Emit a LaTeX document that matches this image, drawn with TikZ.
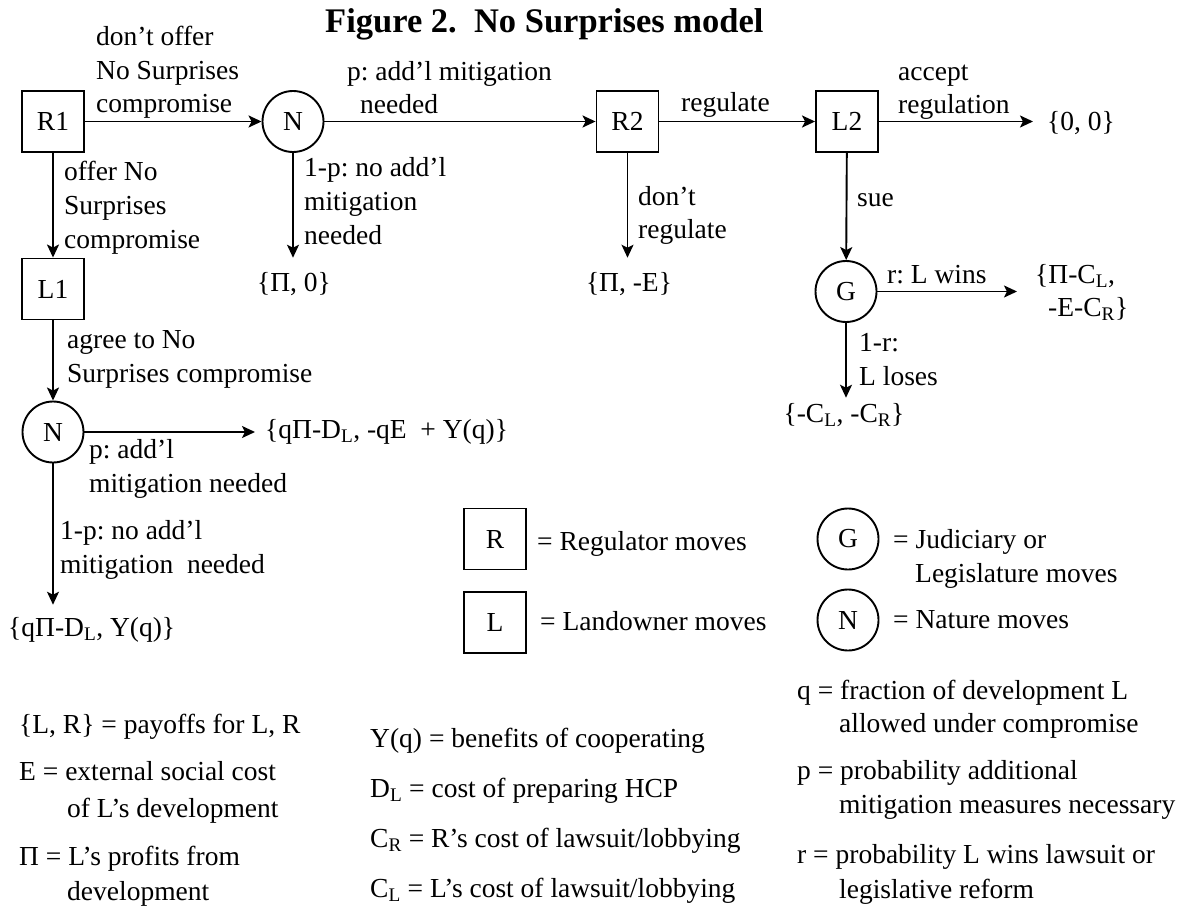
\documentclass[tikz,border=0pt]{standalone}
\usepackage{fontspec}
\setmainfont{Liberation Serif}
\usetikzlibrary{arrows.meta}
\frenchspacing
\begin{document}
\begin{tikzpicture}[x=1pt,y=-1pt,
  every node/.style={font=\fontsize{27.5}{33.5}\selectfont},
  sq/.style={draw, line width=1.9pt, minimum width=62pt, minimum height=61pt, inner sep=0},
  circ/.style={draw, circle, line width=1.9pt, minimum size=61pt, inner sep=0},
  lab/.style={inner sep=0, anchor=base west, align=left},
  pay/.style={inner sep=0},
  arr/.style={line width=1.9pt, -{Stealth[length=13pt,width=12pt,inset=3pt]}},
]
\useasboundingbox (0,0) rectangle (1190,909);
% title
\node[font=\fontsize{34.5}{40}\selectfont\bfseries, anchor=base west, inner sep=0] (title) at (325,33) {Figure 2.\hspace{0.5em}No Surprises model};
% tree nodes
\node[sq] (R1) at (53,121.5) {R1};
\node[circ] (N1) at (293,121.5) {N};
\node[sq] (R2) at (627.5,121.5) {R2};
\node[sq] (L2) at (847,121.5) {L2};
\node[sq] (L1) at (53,289) {L1};
\node[circ] (N2) at (53,432) {N};
\node[circ] (G) at (846,291.5) {G};
% payoffs
\node[pay, anchor=base] (P1) at (294,291.5) {\{Π, 0\}};
\node[pay, anchor=base] (P2) at (629,291.5) {\{Π, -E\}};
\node[pay, anchor=base west] (P3) at (1047,131) {\{0, 0\}};
\node[pay, anchor=base west, align=left] (P4) at (1035,316.5) {\{Π-C\textsubscript{L},\\\hspace*{13pt}-E-C\textsubscript{R}\}};
\node[pay, anchor=base] (P5) at (844,422) {\{-C\textsubscript{L}, -C\textsubscript{R}\}};
\node[pay, anchor=base west] (P6) at (265,438) {\{qΠ-D\textsubscript{L}, -qE\ \ + Y(q)\}};
\node[pay, anchor=base west] (P7) at (8,636) {\{qΠ-D\textsubscript{L}, Y(q)\}};
% edge labels (anchored at the baseline of the last line)
\node[lab] (l1) at (96,113) {don’t offer\\No Surprises\\compromise};
\node[lab] (l2) at (64,248) {offer No\\Surprises\\compromise};
\node[lab] (l3) at (304,244) {1-p: no add’l\\mitigation\\needed};
\node[lab] (l4) at (347,114) {p: add’l mitigation\\\hspace*{13pt}needed};
\node[lab] (l5) at (681,112) {regulate};
\node[lab] (l6) at (898,114) {accept\\regulation};
\node[lab] (l7) at (638,239) {don’t\\regulate};
\node[lab] (l8) at (857,207) {sue};
\node[lab] (l9) at (887,283) {r: L wins};
\node[lab] (l10) at (859,385) {1-r:\\L loses};
\node[lab] (l11) at (67,382) {agree to No\\Surprises compromise};
\node[lab] (l12) at (89,492) {p: add’l\\mitigation needed};
\node[lab] (l13) at (60,573) {1-p: no add’l\\mitigation\ \ needed};
% edges
\draw[arr] (R1) -- (N1);
\draw[arr] (N1) -- (R2);
\draw[arr] (R2) -- (L2);
\draw[arr, shorten >=14pt] (L2) -- (L2 -| P3.west);
\draw[arr] (R1) -- (L1);
\draw[arr] (L1) -- (N2);
\draw[arr] (L2) -- (G);
\draw[arr, shorten >=14.5pt] (N1) -- (N1 |- P1.north);
\draw[arr, shorten >=14.5pt] (R2) -- (R2 |- P2.north);
\draw[arr, shorten >=18pt] (G) -- (G -| P4.west);
\draw[arr, shorten >=5pt] (G) -- (G |- P5.north);
\draw[arr, shorten >=10pt] (N2) -- (N2 -| P6.west);
\draw[arr, shorten >=12pt] (N2) -- (N2 |- P7.north);
% legend
\node[sq] (LR) at (495,539) {R};
\node[sq] (LL) at (495,622.5) {L};
\node[circ] (LG) at (848,539) {G};
\node[circ] (LN) at (848,620) {N};
\node[lab] (tR) at (537,550) {= Regulator moves};
\node[lab] (tL) at (540,630) {= Landowner moves};
\node[lab] (tG) at (893,582) {= Judiciary or\\\hspace*{22pt}Legislature moves};
\node[lab] (tN) at (893,628) {= Nature moves};
% definitions
\node[lab] (d1) at (19,733) {\{L, R\} = payoffs for L, R};
\node[lab] (d2) at (19,817) {E = external social cost\\[3pt]\hspace*{48pt}of L’s development};
\node[lab] (d3) at (19,900) {Π = L’s profits from\\[1pt]\hspace*{48pt}development};
\node[lab] (d4) at (370,747) {Y(q) = benefits of cooperating};
\node[lab] (d5) at (370,797) {D\textsubscript{L} = cost of preparing HCP};
\node[lab] (d6) at (370,847) {C\textsubscript{R} = R’s cost of lawsuit/lobbying};
\node[lab] (d7) at (370,897) {C\textsubscript{L} = L’s cost of lawsuit/lobbying};
\node[lab] (d8) at (797,732) {q = fraction of development L\\[-1pt]\hspace*{42pt}allowed under compromise};
\node[lab] (d9) at (797,813) {p = probability additional\\\hspace*{42pt}mitigation measures necessary};
\node[lab] (d10) at (797,898) {r = probability L wins lawsuit or\\[1pt]\hspace*{42pt}legislative reform};
\end{tikzpicture}
\end{document}
